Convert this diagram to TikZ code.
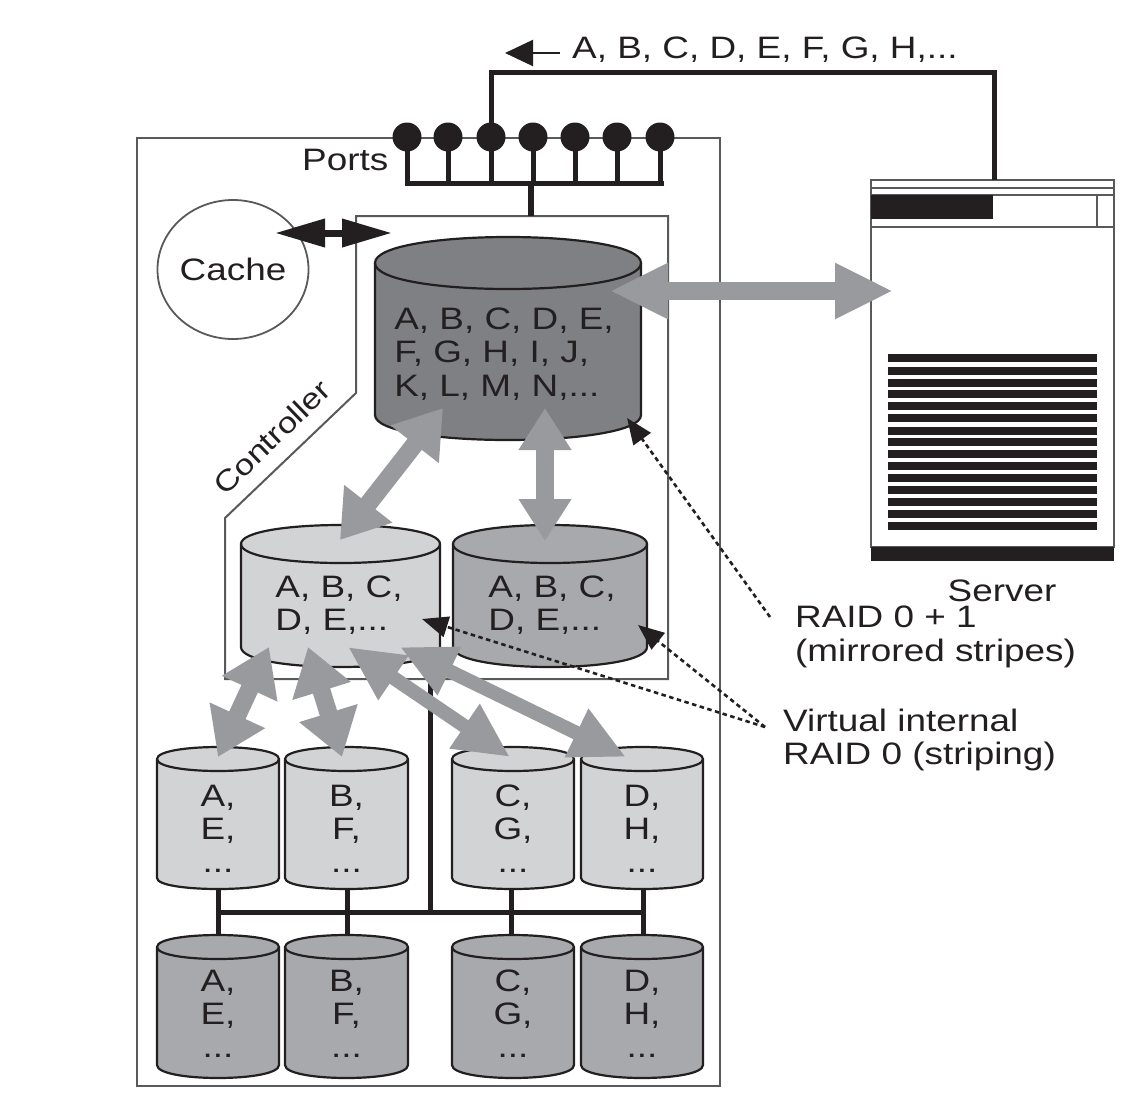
\documentclass[tikz,border=0pt]{standalone}
\usepackage{fontspec}
\setmainfont[FakeStretch=1.19]{Liberation Sans}
\usetikzlibrary{arrows.meta,shapes.geometric}
\definecolor{ink}{HTML}{231F20}
\definecolor{edge}{HTML}{58595B}
\definecolor{darkd}{HTML}{7F8083}
\definecolor{midd}{HTML}{A7A9AC}
\definecolor{lightd}{HTML}{D1D3D4}
\definecolor{bigarrow}{HTML}{999A9D}
\tikzset{
  lab/.style={inner sep=0pt,text=ink,font=\fontsize{31}{33.5}\selectfont,align=left},
  drumline/.style={draw=ink,line width=2.2},
  thin box/.style={draw=edge,line width=2},
  busline/.style={draw=ink,line width=5},
  port/.style={circle,fill=ink,inner sep=0pt,minimum size=29},
  fat/.style={draw=bigarrow,line width=18,{Triangle[length=46,width=58,fill=bigarrow]}-{Triangle[length=46,width=58,fill=bigarrow]}},
  slim/.style={draw=bigarrow,line width=14,{Triangle[length=55,width=50,fill=bigarrow]}-{Triangle[length=55,width=50,fill=bigarrow]}},
  dots/.style={draw=ink,line width=2.6,dash pattern=on 4.5pt off 3.5pt,-{Triangle[length=26,width=21,fill=ink]}},
}
% name, xl, xr, top-ellipse centre y, top ry, bottom y, bottom ry, fill
\newcommand{\drum}[8]{%
  \pgfmathsetmacro{\ctrlb}{#6+1.3333*#7}
  \pgfmathsetmacro{\ctrlu}{#4-1.3333*#5}
  \pgfmathsetmacro{\ctrld}{#4+1.3333*#5}
  \pgfmathsetmacro{\midx}{(#2+#3)/2}
  \pgfmathsetmacro{\boty}{#6+#7}
  \pgfmathsetmacro{\topy}{#4-#5}
  \draw[drumline,fill=#8] (#2,#4) -- (#2,#6) .. controls (#2,\ctrlb) and (#3,\ctrlb) .. (#3,#6) -- (#3,#4)
     .. controls (#3,\ctrlu) and (#2,\ctrlu) .. (#2,#4) -- cycle;
  \draw[drumline] (#2,#4) .. controls (#2,\ctrld) and (#3,\ctrld) .. (#3,#4);
  \coordinate (#1-b) at (\midx,\boty);
  \coordinate (#1-t) at (\midx,\topy);
}
\begin{document}
\begin{tikzpicture}[x=1pt,y=-1pt]
\useasboundingbox (0,0) rectangle (1140,1095);
% outer cabinet
\draw[thin box] (137,138) rectangle (720,1086);
% server
\draw[thin box] (871,180) rectangle (1114,547);
\draw[thin box] (871,188) -- (1114,188);
\draw[thin box] (871,195) -- (1114,195);
\draw[thin box] (871,227) -- (1114,227);
\draw[thin box] (1097,195) -- (1097,227);
\fill[ink] (871,195) rectangle (993,219);
\fill[ink] (871,547) rectangle (1114,561);
\foreach \yy in {358,371,383,394,406,418,431,442,454,466,478,490,502,514,526}
  \fill[ink] (888,\yy-3.8) rectangle (1097,\yy+3.8);
\coordinate (srvtop) at (994,180);
% controller
\draw[thin box] (356,216) -- (668,216) -- (668,679) -- (225,679) -- (225,518) -- (356,393) -- (356,216) -- cycle;
\node[lab,rotate=44,font=\fontsize{29}{34}\selectfont] (ctrl) at (272,437) {Controller};
% cache
\node[ellipse,draw=edge,line width=1.8,minimum width=151,minimum height=139,inner sep=0pt,font=\fontsize{31}{34}\selectfont,text=ink] (cache) at (233,269.5) {Cache};
% ports
\foreach \n/\xx in {1/407,2/448,3/491,4/533,5/575,6/617,7/660}
  \node[port] (p\n) at (\xx,137) {};
\coordinate (bus0) at (407,183);
\coordinate (bus1) at (661,183);
\draw[busline,line cap=rect] (bus0) -- (bus1);
\foreach \n in {1,2,3,4,5,6,7}
  \draw[busline] (p\n.center) -- (p\n.center |- bus0);
\coordinate (stem) at (531,183);
\coordinate (ctop) at (531,216);
\draw[draw=ink,line width=6] (stem) -- (ctop);
\node[lab,anchor=west] (portlbl) at (302,160) {Ports};
% host connection
\coordinate (h1) at (491,72);
\coordinate (h2) at (994,72);
\draw[busline,line join=miter] (p3.center) -- (h1) -- (h2) -- (srvtop);
\node[lab,anchor=west] (hostlbl) at (572,50) {A, B, C, D, E, F, G, H,...};
\coordinate (ha) at (560,53);
\coordinate (hb) at (505,53);
\draw[draw=ink,line width=2,-{Triangle[length=28,width=26,fill=ink]}] (ha) -- (hb);
% cache arrow
\coordinate (ca) at (275,233);
\coordinate (cb) at (392,233);
\draw[draw=ink,line width=7,{Triangle[length=50,width=27,fill=ink]}-{Triangle[length=50,width=27,fill=ink]}] (ca) -- (cb);
% drums
\drum{big}{375}{641}{263}{26}{415}{25}{darkd}
\node[lab] (bigt) at (504,354) {A, B, C, D, E,\\F, G, H, I, J,\\K, L, M, N,...};
\drum{stripeA}{241}{440}{544}{19}{647}{20}{lightd}
\node[lab] (sat) at (339,605) {A, B, C,\\D, E,...};
\drum{stripeB}{453}{647}{544}{19}{647}{20}{midd}
\node[lab] (sbt) at (552,605) {A, B, C,\\D, E,...};
\foreach \id/\xl/\xr/\ta/\tb in {a/157/279/A/E,b/285/408/B/F,c/452/574/C/G,d/581/703/D/H}{
  \drum{u\id}{\xl}{\xr}{759}{12}{878}{11}{lightd}
  \pgfmathsetmacro{\tx}{(\xl+\xr)/2}
  \node[lab,align=center,font=\fontsize{31}{33}\selectfont] (ut\id) at (\tx,829) {\ta,\\\tb,\\...};
}
\foreach \id/\xl/\xr/\ta/\tb in {a/157/279/A/E,b/285/408/B/F,c/452/574/C/G,d/581/703/D/H}{
  \drum{l\id}{\xl}{\xr}{947}{12}{1065}{13}{midd}
  \pgfmathsetmacro{\tx}{(\xl+\xr)/2}
  \node[lab,align=center,font=\fontsize{31}{33}\selectfont] (lt\id) at (\tx,1014) {\ta,\\\tb,\\...};
}
% bus between drum rows
\coordinate (busL) at (218,912);
\coordinate (busR) at (643,912);
\coordinate (busM) at (430,912);
\coordinate (busT) at (430,679);
\draw[busline] (busL) -- (busR);
\draw[busline] (busT) -- (busM);
\coordinate (sa) at (218,889);
\coordinate (sb) at (347,889);
\coordinate (sc) at (511,889);
\coordinate (sd) at (643,889);
\coordinate (ea) at (218,935);
\coordinate (eb) at (347,935);
\coordinate (ec) at (511,935);
\coordinate (ed) at (643,935);
\foreach \k in {a,b,c,d} \draw[busline] (s\k) -- (e\k);
% big grey arrows
\coordinate (f1) at (610,291);
\coordinate (f2) at (893,291);
\draw[fat,{Triangle[length=58,width=52,fill=bigarrow]}-{Triangle[length=58,width=52,fill=bigarrow]}] (f1) -- (f2);
\coordinate (g1) at (443,408);
\coordinate (g2) at (340,540);
\draw[fat] (g1) -- (g2);
\coordinate (g3) at (545,408);
\coordinate (g4) at (545,541);
\draw[fat,{Triangle[length=42,width=50,fill=bigarrow]}-{Triangle[length=42,width=50,fill=bigarrow]}] (g3) -- (g4);
\coordinate (k1) at (269,647);
\coordinate (k2) at (218,757);
\draw[fat] (k1) -- (k2);
\coordinate (k3) at (308,647);
\coordinate (k4) at (342,757);
\draw[fat] (k3) -- (k4);
\coordinate (k5) at (348,647);
\coordinate (k6) at (510,757);
\draw[slim] (k5) -- (k6);
\coordinate (k7) at (400,647);
\coordinate (k8) at (626,757);
\draw[slim] (k7) -- (k8);
% labels and callouts
\node[lab,anchor=base] (srvlbl) at (1002,601) {Server};
\node[lab,anchor=west] (r01) at (795,637) {RAID 0 + 1\\(mirrored stripes)};
\node[lab,anchor=west] (r0) at (783,740) {Virtual internal\\RAID 0 (striping)};
\coordinate (d1) at (770,617);
\coordinate (d1e) at (627,418);
\draw[dots] (d1) -- (d1e);
\coordinate (d2) at (765,727);
\coordinate (d2e) at (638,625);
\draw[dots] (d2) -- (d2e);
\coordinate (d3e) at (422,619);
\draw[dots] (d2) -- (d3e);
\end{tikzpicture}
\end{document}
